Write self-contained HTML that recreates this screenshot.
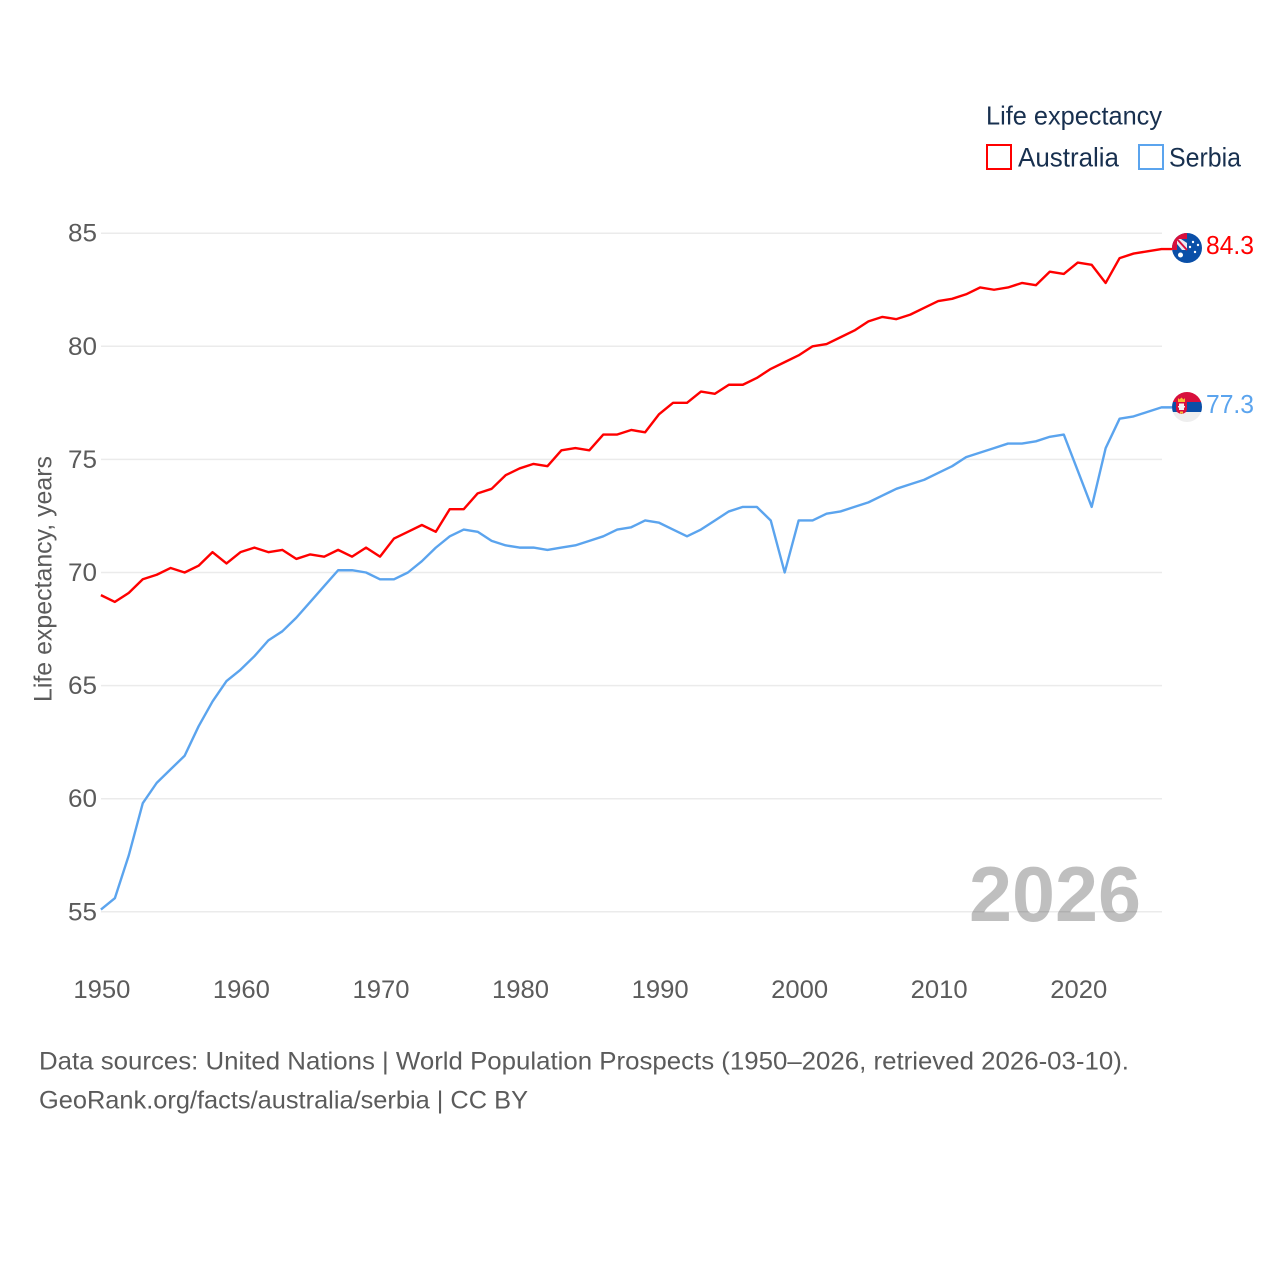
<!DOCTYPE html>
<html lang="en">
<head>
<meta charset="utf-8">
<title>Life expectancy: Australia and Serbia</title>
<style>
html,body{margin:0;padding:0;background:#fff;width:1280px;height:1280px;overflow:hidden}
svg{display:block}
text{font-family:"Liberation Sans",sans-serif}
</style>
</head>
<body>
<svg id="chart" width="1280" height="1280" viewBox="0 0 1280 1280" xmlns="http://www.w3.org/2000/svg">
  <rect width="1280" height="1280" fill="#fff"/>
  <g id="grid"></g>
  <g id="yticks"></g>
  <g id="xticks"></g>
  <text transform="translate(51.500,702) rotate(-90)" font-size="25" fill="#5b5b5b" textLength="246" lengthAdjust="spacingAndGlyphs">Life expectancy, years</text>
  <text x="969" y="921" font-size="78" font-weight="bold" fill="#000" fill-opacity="0.25" textLength="172" lengthAdjust="spacingAndGlyphs">2026</text>
  <g id="series"></g>

  <g>
    <text x="986" y="124.500" font-size="26" fill="#18304f" textLength="176" lengthAdjust="spacingAndGlyphs">Life expectancy</text>
    <g>
      <rect x="987" y="145" width="24" height="24" fill="#fff" stroke="#ff0000" stroke-width="2"/>
      <text x="1018" y="166.500" font-size="27" fill="#18304f" textLength="101" lengthAdjust="spacingAndGlyphs">Australia</text>
    </g>
    <g>
      <rect x="1139" y="145" width="24" height="24" fill="#fff" stroke="#5ba4ee" stroke-width="2"/>
      <text x="1169" y="166.500" font-size="27" fill="#18304f" textLength="72" lengthAdjust="spacingAndGlyphs">Serbia</text>
    </g>
  </g>

  <defs>
    <clipPath id="clip-au"><circle cx="1187" cy="248" r="15"/></clipPath>
    <clipPath id="clip-rs"><circle cx="1187" cy="407" r="15"/></clipPath>
  </defs>
  <g clip-path="url(#clip-au)">
    <rect x="1172" y="233" width="30" height="30" fill="#0a4fa8"/>
    <rect x="1172" y="233" width="15" height="17" fill="#d80f3c"/>
    <rect x="1177" y="239" width="10" height="11" fill="#e9e9f2"/>
    <path d="M1177 239L1187 250" stroke="#d80f3c" stroke-width="2"/>
    <path d="M1181 239h6v4z" fill="#0a4fa8"/>
    <path d="M1177 244v6h5z" fill="#0a4fa8"/>
    <circle cx="1180.500" cy="255" r="2.500" fill="#fff"/>
    <circle cx="1193" cy="242" r="1.200" fill="#fff"/>
    <circle cx="1190" cy="247" r="1.200" fill="#fff"/>
    <circle cx="1198" cy="245" r="1.200" fill="#fff"/>
    <circle cx="1195" cy="252" r="1.200" fill="#fff"/>
  </g>
  <g clip-path="url(#clip-rs)">
    <rect x="1172" y="392" width="30" height="10" fill="#d80f3c"/>
    <rect x="1172" y="402" width="30" height="10" fill="#0a4fa8"/>
    <rect x="1172" y="412" width="30" height="10" fill="#eeeeee"/>
    <path d="M1176 402h11v7q0 4-5.500 5q-5.500-1-5.500-5z" fill="#d80f3c"/>
    <path d="M1178 398l1.500 1.500l2-2l2 2l1.500-1.500v4h-7z" fill="#f5c033"/>
    <path d="M1179 403.500h5v2.500h1v1.500h-1v2.500h-5v-2.500h-1v-1.500h1z" fill="#f4f4f4"/>
    <rect x="1180" y="411.500" width="3" height="2" fill="#f5c033"/>
  </g>

  <text id="label-au" x="1206" y="254" font-size="26" fill="#ff0000" textLength="48" lengthAdjust="spacingAndGlyphs"></text>
  <text id="label-rs" x="1206" y="413" font-size="26" fill="#5ba4ee" textLength="48" lengthAdjust="spacingAndGlyphs"></text>

  <text x="39" y="1069.500" font-size="25" fill="#5b5b5b" textLength="1090" lengthAdjust="spacingAndGlyphs">Data sources: United Nations | World Population Prospects (1950–2026, retrieved 2026-03-10).</text>
  <text x="39" y="1108.500" font-size="25" fill="#5b5b5b" textLength="489" lengthAdjust="spacingAndGlyphs">GeoRank.org/facts/australia/serbia | CC BY</text>
</svg>
<script>
const startYear = 1950;
const yTicks = [55, 60, 65, 70, 75, 80, 85];
const xTicks = [1950, 1960, 1970, 1980, 1990, 2000, 2010, 2020];
const australia = [69.0,68.7,69.1,69.7,69.9,70.2,70.0,70.3,70.9,70.4,70.9,71.1,70.9,71.0,70.6,70.8,70.7,71.0,70.7,71.1,70.7,71.5,71.8,72.1,71.8,72.8,72.8,73.5,73.7,74.3,74.6,74.8,74.7,75.4,75.5,75.4,76.1,76.1,76.3,76.2,77.0,77.5,77.5,78.0,77.9,78.3,78.3,78.6,79.0,79.3,79.6,80.0,80.1,80.4,80.7,81.1,81.3,81.2,81.4,81.7,82.0,82.1,82.3,82.6,82.5,82.6,82.8,82.7,83.3,83.2,83.7,83.6,82.8,83.9,84.1,84.2,84.3];
const serbia = [55.1,55.6,57.5,59.8,60.7,61.3,61.9,63.2,64.3,65.2,65.7,66.3,67.0,67.4,68.0,68.7,69.4,70.1,70.1,70.0,69.7,69.7,70.0,70.5,71.1,71.6,71.9,71.8,71.4,71.2,71.1,71.1,71.0,71.1,71.2,71.4,71.6,71.9,72.0,72.3,72.2,71.9,71.6,71.9,72.3,72.7,72.9,72.9,72.3,70.0,72.3,72.3,72.6,72.7,72.9,73.1,73.4,73.7,73.9,74.1,74.4,74.7,75.1,75.3,75.5,75.7,75.7,75.8,76.0,76.1,74.5,72.9,75.5,76.8,76.9,77.1,77.3];

const NS = 'http://www.w3.org/2000/svg';
const xScale = year => 100.9 + (year - startYear) * 13.955;
const yScale = value => 911.8 - (value - 55) * 22.62;

const grid = document.getElementById('grid');
const yGroup = document.getElementById('yticks');
const xGroup = document.getElementById('xticks');
const seriesGroup = document.getElementById('series');

yTicks.forEach(tick => {
  const line = document.createElementNS(NS, 'line');
  
  
  line.setAttribute('x1', 101);
  line.setAttribute('x2', 1162);
  line.setAttribute('y1', yScale(tick));
  line.setAttribute('y2', yScale(tick));
  line.setAttribute('stroke', '#ebebeb');
  line.setAttribute('stroke-width', 1.5);
  grid.appendChild(line);

  const label = document.createElementNS(NS, 'text');
  
  
  label.setAttribute('x', 68);
  label.setAttribute('y', yScale(tick) + 8.5);
  label.setAttribute('font-size', 25);
  label.setAttribute('fill', '#5b5b5b');
  label.setAttribute('textLength', 29);
  label.setAttribute('lengthAdjust', 'spacingAndGlyphs');
  label.textContent = tick;
  yGroup.appendChild(label);
});

xTicks.forEach(tick => {
  const label = document.createElementNS(NS, 'text');
  
  
  label.setAttribute('x', xScale(tick) - 27.5);
  label.setAttribute('y', 998);
  label.setAttribute('font-size', 25);
  label.setAttribute('fill', '#5b5b5b');
  label.setAttribute('textLength', 57);
  label.setAttribute('lengthAdjust', 'spacingAndGlyphs');
  label.textContent = tick;
  xGroup.appendChild(label);
});

function drawSeries(values, color, name) {
  const pts = values.map((v, i) => xScale(startYear + i).toFixed(2) + ',' + yScale(v).toFixed(2));
  pts.push('1172,' + yScale(values[values.length - 1]).toFixed(2));
  const poly = document.createElementNS(NS, 'polyline');
  
  
  poly.setAttribute('points', pts.join(' '));
  poly.setAttribute('fill', 'none');
  poly.setAttribute('stroke', color);
  poly.setAttribute('stroke-width', 2.4);
  poly.setAttribute('stroke-linejoin', 'round');
  seriesGroup.appendChild(poly);
}
drawSeries(australia, '#ff0000', 'line-australia');
drawSeries(serbia, '#5ba4ee', 'line-serbia');

document.getElementById('label-au').textContent = australia[australia.length - 1].toFixed(1);
document.getElementById('label-rs').textContent = serbia[serbia.length - 1].toFixed(1);
</script>
</body>
</html>
